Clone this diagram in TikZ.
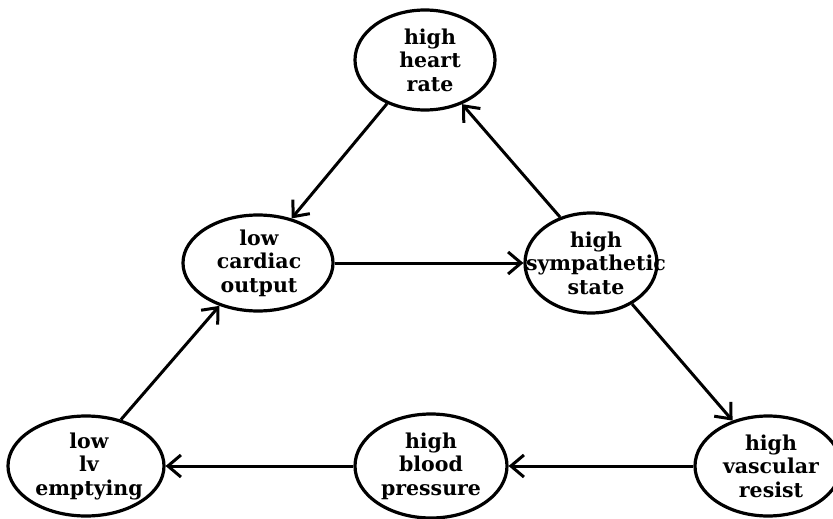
\documentclass[tikz,border=0pt]{standalone}
\usepackage{fontspec}
\setmainfont{DejaVu Serif}
\usetikzlibrary{shapes.geometric,arrows.meta}
\begin{document}
\begin{tikzpicture}[x=1pt,y=-1pt,
  ell/.style={draw, ellipse, line width=3.2pt, inner sep=0pt},
  lbl/.style={align=center, font=\fontsize{20.5}{23.5}\selectfont\bfseries, inner sep=0pt},
  conn/.style={line width=3pt, -{Straight Barb[length=13pt,width=22pt]}}]
\useasboundingbox (0,0) rectangle (833,519);
\node[ell, minimum width=140pt, minimum height=100pt] (hr) at (425,60) {};
\node[ell, minimum width=150pt, minimum height=96pt] (co) at (258,263) {};
\node[ell, minimum width=132pt, minimum height=100pt] (sy) at (591,263) {};
\node[ell, minimum width=156pt, minimum height=100pt] (lv) at (86,466) {};
\node[ell, minimum width=152pt, minimum height=104pt] (bp) at (431,466) {};
\node[ell, minimum width=146pt, minimum height=100pt] (vr) at (768,466) {};
\node[lbl] (hrt) at (430,60) {high\\heart\\rate};
\node[lbl] (cot) at (259,263) {low\\cardiac\\output};
\node[lbl] (syt) at (596,263) {high\\sympathetic\\state};
\node[lbl] (lvt) at (89,466) {low\\lv\\emptying};
\node[lbl] (bpt) at (431,466) {high\\blood\\pressure};
\node[lbl] (vrt) at (771,466) {high\\vascular\\resist};
\draw[conn] (hr.-131) -- (co.53);
\draw[conn] (sy.124) -- (hr.-50);
\draw[conn] (co.east) -- (sy.west);
\draw[conn] (sy.-45) -- (vr.128);
\draw[conn] (vr.west) -- (bp.east);
\draw[conn] (bp.west) -- (lv.east);
\draw[conn] (lv.53) -- (co.-132);
\end{tikzpicture}
\end{document}
